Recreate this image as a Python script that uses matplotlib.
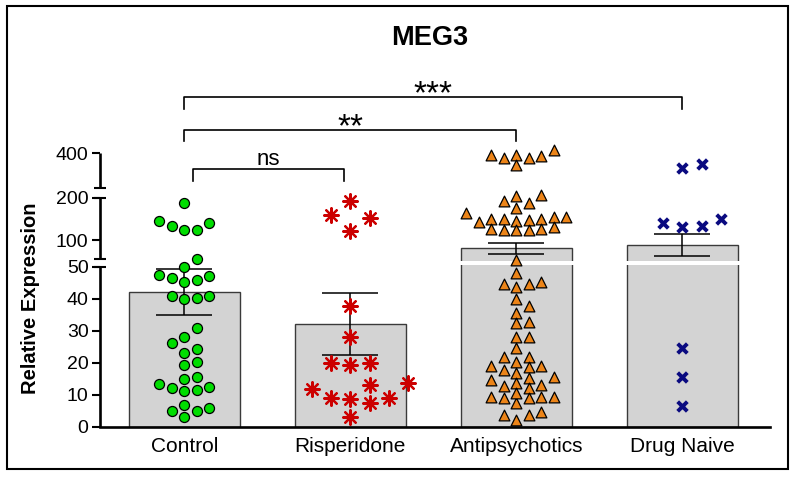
import numpy as np
import matplotlib
matplotlib.use('Agg')
import matplotlib.pyplot as plt
import matplotlib.transforms as mtransforms
from matplotlib.patches import Rectangle

plt.rcParams['font.family'] = ['Liberation Sans', 'DejaVu Sans']

# ---------------- data ----------------
categories = ['Control', 'Risperidone', 'Antipsychotics', 'Drug Naive']
control = [187, 140, 124, 124, 133, 145, 55.4, 49.9,
           47.0, 45.8, 45.25, 46.3, 47.3, 40.8, 39.75, 40.06, 40.8,
           30.9, 27.9, 26.2, 22.9, 24.2, 20.25, 19.2, 15.4,
           14.75, 12.4, 11.2, 11.4, 11.9, 13.2,
           6.7, 4.9, 3.1, 4.9, 5.9]
risperidone = [193.6, 153, 159.5, 121.4,
               37.7, 28.1, 19.9, 19.2, 19.75, 13.0, 11.6, 13.7,
               8.8, 8.6, 7.4, 8.8, 3.1]
antipsychotics = [391, 387, 377, 413, 377, 391, 349,
                  215, 211, 193.6, 189, 175.5, 165, 146, 143.6, 154, 149, 149, 149, 154, 147.6,
                  125.5, 124, 124, 124, 125.5, 130,
                  54.9, 48.1, 44.5, 43.7, 44.5, 45.25, 39.75, 35.6, 37.75, 32.4, 32.75,
                  27.9, 27.9, 24.4, 21.8, 21.8, 18.9, 18.7, 20.25, 18.9, 16.6, 17.7,
                  14.5, 13.5, 15.1, 15.4, 11.9, 12.7, 13.0,
                  9.3, 9.1, 8.8, 7.25, 8.8, 9.3, 10.6, 3.6, 2.0, 3.6, 4.6]
drug_naive = [334, 353, 149, 133, 130, 140, 24.4, 15.6, 6.5]
means = [42.0, 31.9, 80.0, 87.7]
sems = [7.1, 9.7, 13.5, 25.8]
y_ticks = [0, 10, 20, 30, 40, 50, 100, 200, 400]
comparisons = [(0, 1, 'ns'), (0, 2, '**'), (0, 3, '***')]
title = 'MEG3'
ylabel = 'Relative Expression'

# ---------------- broken y scale (piecewise linear) ----------------
seg_v = np.array([-1000, 0, 50, 56, 200, 250, 400, 2000], float)
seg_u = np.array([-3200, 0, 160, 168, 228.5, 238.5, 273.5, 646.8], float)
segments = [(0, 50), (56, 200), (250, 400)]
break_ends = [50, 56, 200, 250]


def fwd(v):
    return np.interp(v, seg_v, seg_u)


def inv(u):
    return np.interp(u, seg_u, seg_v)


W, H = 794, 478
fig = plt.figure(figsize=(W / 100, H / 100), dpi=100)
ax = fig.add_axes([100 / W, (H - 426.5) / H, 670 / W, 273.5 / H])
ax.set_yscale('function', functions=(fwd, inv))
ax.set_ylim(0, 400)
ax.set_xlim(-0.508, 3.528)

x = np.arange(len(categories))

# bars + error bars
ax.bar(x, means, width=0.665, color='#d3d3d3', edgecolor='#3a3a3a',
       linewidth=1.0, zorder=2)
ax.errorbar(x, means, yerr=sems, fmt='none', ecolor='black', elinewidth=1.1,
            capsize=20.5, capthick=1.1, zorder=3)
ax.axhspan(51.5, 54.5, color='white', zorder=3.5, lw=0)


def swarm(values, xpos, step_px, thresh_px):
    vals = np.asarray(values, float)
    ypx = ax.transData.transform(np.column_stack([np.full(len(vals), xpos), vals]))[:, 1]
    order = np.argsort(vals, kind='stable')
    cand = [0]
    for i in range(1, 25):
        cand += [i, -i]
    placed = {}
    ks = np.zeros(len(vals), int)
    for idx in order:
        y = ypx[idx]
        for k in cand:
            if all(abs(y - yy) >= thresh_px for yy in placed.get(k, [])):
                ks[idx] = k
                placed.setdefault(k, []).append(y)
                break
    p0 = ax.transData.transform([(0, 1)])[0, 0]
    p1 = ax.transData.transform([(1, 1)])[0, 0]
    return xpos + ks * step_px / (p1 - p0), vals


groups = [control, risperidone, antipsychotics, drug_naive]
styles = [
    dict(marker='o', s=52, facecolor='#00dd00', edgecolor='black', linewidths=0.9),
    dict(marker=(8, 2, 0), s=110, color='#cc0000', linewidths=1.6),
    dict(marker='^', s=60, facecolor='#ec8418', edgecolor='black', linewidths=0.9),
    dict(marker='x', s=48, color='#0a0a80', linewidths=2.8),
]
params = [(12.5, 11), (19.3, 17.5), (12.5, 9), (19.5, 12)]
for i, (g, st, (step, th)) in enumerate(zip(groups, styles, params)):
    xs, ys = swarm(g, i, step, th)
    ax.scatter(xs, ys, zorder=4, clip_on=False, **st)

# axis styling
for s in ['top', 'right', 'left']:
    ax.spines[s].set_visible(False)
ax.spines['bottom'].set_linewidth(1.9)
ax.set_yticks(y_ticks)
ax.set_yticklabels([str(t) for t in y_ticks])
ax.tick_params(axis='y', length=5.8, width=1.5, pad=2.4, labelsize=14)
ax.set_xticks(x)
ax.set_xticklabels(categories)
ax.tick_params(axis='x', length=0, pad=7.5, labelsize=15)
ax.minorticks_off()

trans_y = mtransforms.blended_transform_factory(ax.transAxes, ax.transData)
for lo, hi in segments:
    ax.plot([0, 0], [lo, hi], transform=trans_y, color='black', lw=1.9,
            clip_on=False, solid_capstyle='butt', zorder=5)
for v in break_ends:
    ax.plot([-0.0085, 0.0085], [v, v], transform=trans_y, color='black',
            lw=1.5, clip_on=False, solid_capstyle='butt', zorder=5)

# significance brackets
trans_b = mtransforms.blended_transform_factory(ax.transData, ax.transAxes)
bracket_levels = {'ns': (0.9397, 0.8958, 0.956, 16),
                  '**': (1.084, 1.044, 1.062, 24),
                  '***': (1.204, 1.160, 1.182, 24)}
for a, b, lab in comparisons:
    top, leg, ty, fs = bracket_levels[lab]
    xa = a + (0.05 if lab == 'ns' else 0.0)
    xb = b - (0.04 if lab == 'ns' else 0.0)
    ax.plot([xa, xa, xb, xb], [leg, top, top, leg], transform=trans_b,
            color='black', lw=1.2, clip_on=False)
    ax.text((xa + xb) / 2, ty, lab, transform=trans_b, ha='center',
            va='baseline', fontsize=fs)

fig.text(430 / W, 1 - 38 / H, title, ha='center', va='center',
         fontsize=19.5, fontweight='bold')
fig.text(30 / W, 1 - 298 / H, ylabel, ha='center', va='center',
         rotation=90, fontsize=14.5, fontweight='bold')

fig.patches.append(Rectangle((6.7 / W, (H - 469) / H), (788 - 6.7) / W, (469 - 5.7) / H,
                             transform=fig.transFigure, fill=False,
                             edgecolor='black', lw=1.5))

fig.savefig('out.png', dpi=100)
